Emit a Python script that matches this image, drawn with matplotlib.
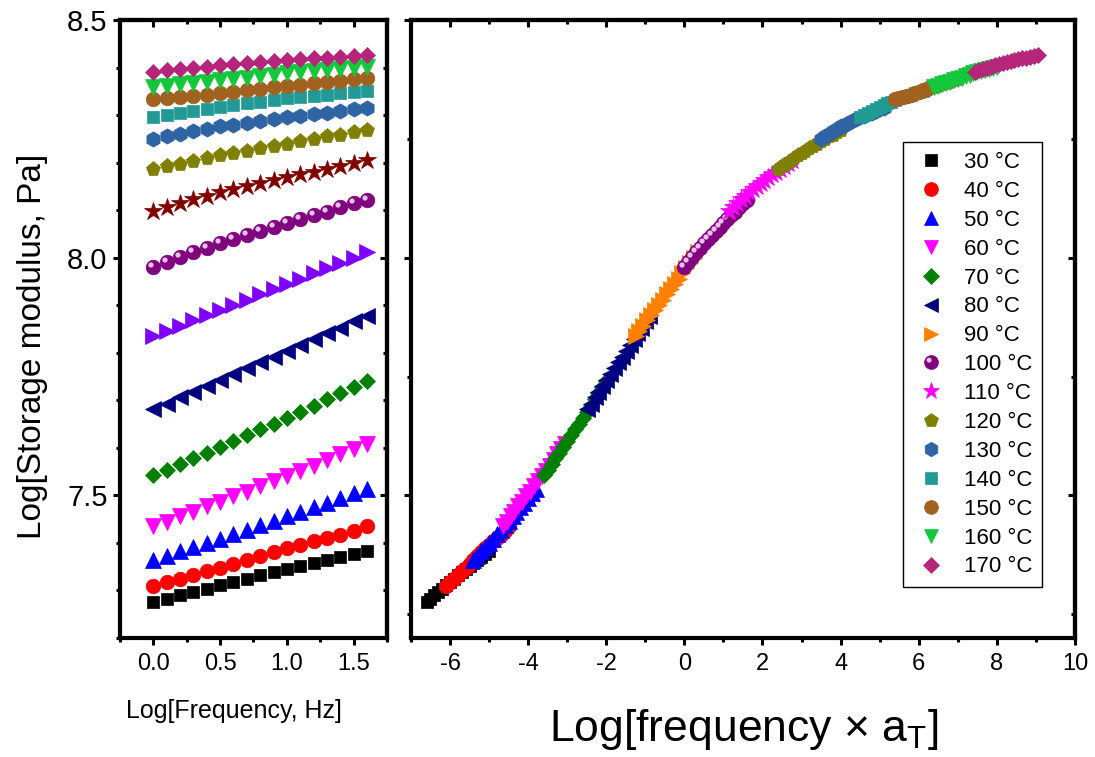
import numpy as np
import matplotlib
matplotlib.use("Agg")
import matplotlib.pyplot as plt
from matplotlib.lines import Line2D
from matplotlib.markers import MarkerStyle
from matplotlib.transforms import Affine2D
from matplotlib.ticker import MultipleLocator, FormatStrFormatter
from matplotlib.legend_handler import HandlerTuple

plt.rcParams['font.family'] = ['Liberation Sans', 'DejaVu Sans']
plt.rcParams['mathtext.fontset'] = 'custom'
plt.rcParams['mathtext.rm'] = 'Liberation Sans'
plt.rcParams['mathtext.it'] = 'Liberation Sans'
plt.rcParams['axes.unicode_minus'] = False

# --- data ---
log_freq = [0.0, 0.1, 0.2, 0.3, 0.4, 0.5, 0.6, 0.7, 0.8, 0.9, 1.0, 1.1, 1.2, 1.3, 1.4, 1.5, 1.6]
temps = [30, 40, 50, 60, 70, 80, 90, 100, 110, 120, 130, 140, 150, 160, 170]

g30 = [7.276, 7.283, 7.290, 7.297, 7.304, 7.311, 7.318, 7.325, 7.332, 7.339, 7.346, 7.352, 7.358, 7.364, 7.370, 7.376, 7.383]
g40 = [7.309, 7.317, 7.324, 7.332, 7.340, 7.347, 7.356, 7.364, 7.372, 7.380, 7.389, 7.396, 7.403, 7.410, 7.417, 7.425, 7.435]
g50 = [7.364, 7.373, 7.382, 7.391, 7.400, 7.409, 7.419, 7.428, 7.437, 7.446, 7.456, 7.466, 7.475, 7.485, 7.494, 7.504, 7.514]
g60 = [7.435, 7.445, 7.456, 7.466, 7.477, 7.487, 7.498, 7.508, 7.519, 7.530, 7.540, 7.551, 7.562, 7.574, 7.586, 7.597, 7.609]
g70 = [7.542, 7.554, 7.566, 7.578, 7.590, 7.602, 7.614, 7.627, 7.639, 7.651, 7.663, 7.676, 7.689, 7.702, 7.715, 7.728, 7.741]
g80 = [7.681, 7.693, 7.706, 7.718, 7.731, 7.743, 7.755, 7.767, 7.780, 7.792, 7.804, 7.817, 7.829, 7.841, 7.853, 7.866, 7.878]
g90 = [7.835, 7.846, 7.857, 7.868, 7.879, 7.890, 7.901, 7.912, 7.923, 7.934, 7.945, 7.956, 7.967, 7.978, 7.989, 8.000, 8.011]
g100 = [7.980, 7.991, 8.001, 8.011, 8.021, 8.030, 8.039, 8.048, 8.056, 8.065, 8.073, 8.081, 8.089, 8.097, 8.106, 8.114, 8.122]
g110 = [8.099, 8.107, 8.115, 8.123, 8.130, 8.138, 8.144, 8.151, 8.157, 8.163, 8.169, 8.175, 8.181, 8.187, 8.193, 8.200, 8.206]
g120 = [8.187, 8.193, 8.198, 8.204, 8.209, 8.215, 8.220, 8.225, 8.230, 8.235, 8.240, 8.245, 8.250, 8.255, 8.259, 8.264, 8.269]
g130 = [8.250, 8.255, 8.261, 8.266, 8.271, 8.276, 8.280, 8.284, 8.288, 8.292, 8.296, 8.299, 8.302, 8.305, 8.308, 8.312, 8.315]
g140 = [8.296, 8.301, 8.305, 8.309, 8.313, 8.317, 8.321, 8.325, 8.328, 8.332, 8.335, 8.338, 8.341, 8.343, 8.346, 8.349, 8.351]
g150 = [8.333, 8.336, 8.339, 8.341, 8.343, 8.346, 8.349, 8.352, 8.355, 8.358, 8.361, 8.364, 8.367, 8.370, 8.372, 8.375, 8.377]
g160 = [8.359, 8.362, 8.365, 8.368, 8.370, 8.373, 8.376, 8.379, 8.382, 8.385, 8.388, 8.390, 8.393, 8.395, 8.397, 8.399, 8.401]
g170 = [8.391, 8.394, 8.396, 8.399, 8.402, 8.405, 8.407, 8.409, 8.411, 8.413, 8.416, 8.417, 8.419, 8.421, 8.422, 8.424, 8.426]
moduli = [g30, g40, g50, g60, g70, g80, g90, g100, g110, g120, g130, g140, g150, g160, g170]

# horizontal shift factors log(aT), reference 100 C
log_aT = [-6.6, -6.1, -5.4, -4.65, -3.6, -2.5, -1.25, 0.0, 1.15, 2.4, 3.5, 4.5, 5.4, 6.4, 7.45]

# --- styles ---
markers = ['s', 'o', '^', 'v', 'D', '<', '>', 'o', '*', 'p', 'h', 's', 'o', 'v', 'D']
msizes = [9, 10.5, 11, 11, 8.3, 11, 11, 10.5, 13.5, 11, 11, 8.5, 10.5, 11, 8.3]
colors_left = ['#000000', '#FF0000', '#0000FF', '#FF00FF', '#008000', '#000080', '#8000FF',
               '#800080', '#800000', '#808000', '#2F64A4', '#219A96', '#A0621E', '#14C83C', '#B5267B']
colors_right = ['#000000', '#FF0000', '#0000FF', '#FF00FF', '#008000', '#000080', '#FF8000',
                '#800080', '#FF00FF', '#808000', '#2F64A4', '#219A96', '#A0621E', '#14C83C', '#B5267B']
SPHERE = 7  # index of the 100 C series drawn as shaded balls
highlight = MarkerStyle('o', transform=Affine2D().scale(0.36).translate(-0.17, 0.17))
HL_COLOR = '#E6C3E6'

fig = plt.figure(figsize=(10.95, 7.57), dpi=100)
ax1 = fig.add_axes([0.1096, 0.1572, 0.2438, 0.8164])
ax2 = fig.add_axes([0.3753, 0.1572, 0.6064, 0.8164])


def draw(ax, xs_list, colors):
    for i, (xs, ys) in enumerate(zip(xs_list, moduli)):
        ax.plot(xs, ys, ls='none', marker=markers[i], ms=msizes[i],
                color=colors[i], mec=colors[i], mew=0.5, zorder=3 + i)
        if i == SPHERE:
            ax.plot(xs, ys, ls='none', marker=highlight, ms=msizes[i],
                    color=HL_COLOR, mew=0, zorder=3 + i)


draw(ax1, [log_freq] * len(temps), colors_left)
shifted = [[f + s for f in log_freq] for s in log_aT]
draw(ax2, shifted, colors_right)


def frame(ax, xmaj, xmin, ymin_step):
    ax.set_ylim(7.2, 8.5)
    for sp in ax.spines.values():
        sp.set_linewidth(3)
    ax.xaxis.set_major_locator(MultipleLocator(xmaj))
    ax.xaxis.set_minor_locator(MultipleLocator(xmin))
    ax.yaxis.set_major_locator(MultipleLocator(0.5))
    ax.yaxis.set_minor_locator(MultipleLocator(ymin_step))
    ax.tick_params(which='major', direction='out', length=5, width=2.2, pad=4)
    ax.tick_params(which='minor', direction='out', length=3, width=2.2)
    # mirrored ticks pointing inward
    top = ax.secondary_xaxis('top')
    top.xaxis.set_major_locator(MultipleLocator(xmaj))
    top.xaxis.set_minor_locator(MultipleLocator(xmin))
    top.tick_params(which='major', direction='in', length=5, width=2.2, labeltop=False)
    top.tick_params(which='minor', direction='in', length=3, width=2.2)
    top.spines['top'].set_linewidth(3)
    right = ax.secondary_yaxis('right')
    right.yaxis.set_major_locator(MultipleLocator(0.5))
    right.yaxis.set_minor_locator(MultipleLocator(ymin_step))
    right.tick_params(which='major', direction='in', length=5, width=2.2, labelright=False)
    right.tick_params(which='minor', direction='in', length=3, width=2.2)
    right.spines['right'].set_linewidth(3)


ax1.set_xlim(-0.25, 1.75)
frame(ax1, 0.5, 0.25, 0.1)
ax1.yaxis.set_major_formatter(FormatStrFormatter('%.1f'))
ax1.xaxis.set_major_formatter(FormatStrFormatter('%.1f'))
ax1.tick_params(axis='y', which='major', labelsize=21)
ax1.tick_params(axis='x', which='major', labelsize=17, pad=6)

ax2.set_xlim(-7, 10)
frame(ax2, 2, 1, 0.25)
ax2.tick_params(axis='y', labelleft=False)
ax2.tick_params(axis='x', which='major', labelsize=17, pad=6)

fig.text(0.030, 1 - 346 / 757, 'Log[Storage modulus, Pa]', rotation=90,
         ha='center', va='center', fontsize=24)
fig.text(234 / 1095, 1 - 711 / 757, 'Log[Frequency, Hz]', ha='center', va='center', fontsize=18)
fig.text(744 / 1095, 1 - 730 / 757, r'Log[frequency $\times$ a$_{\mathrm{T}}$]',
         ha='center', va='center', fontsize=32)

# legend
handles = []
for i, t in enumerate(temps):
    h = Line2D([], [], ls='none', marker=markers[i], ms=msizes[i] * 0.95,
               color=colors_right[i], mec=colors_right[i], mew=0.5)
    if i == SPHERE:
        h2 = Line2D([], [], ls='none', marker=highlight, ms=msizes[i] * 0.95, color=HL_COLOR, mew=0)
        h = (h, h2)
    handles.append(h)
labels = [f'{t} \u00b0C' for t in temps]
leg = ax2.legend(handles, labels, loc='upper left', bbox_to_anchor=(903 / 1095, 1 - 142 / 757),
                 bbox_transform=fig.transFigure, borderaxespad=0, fontsize=16,
                 labelspacing=0.355, handlelength=1.6, handletextpad=0.7, borderpad=0.45,
                 frameon=True, fancybox=False, edgecolor='black', framealpha=1,
                 handler_map={tuple: HandlerTuple(ndivide=1, pad=0)})
leg.get_frame().set_linewidth(1.0)
leg.set_zorder(50)

fig.savefig('out.png', dpi=100)
